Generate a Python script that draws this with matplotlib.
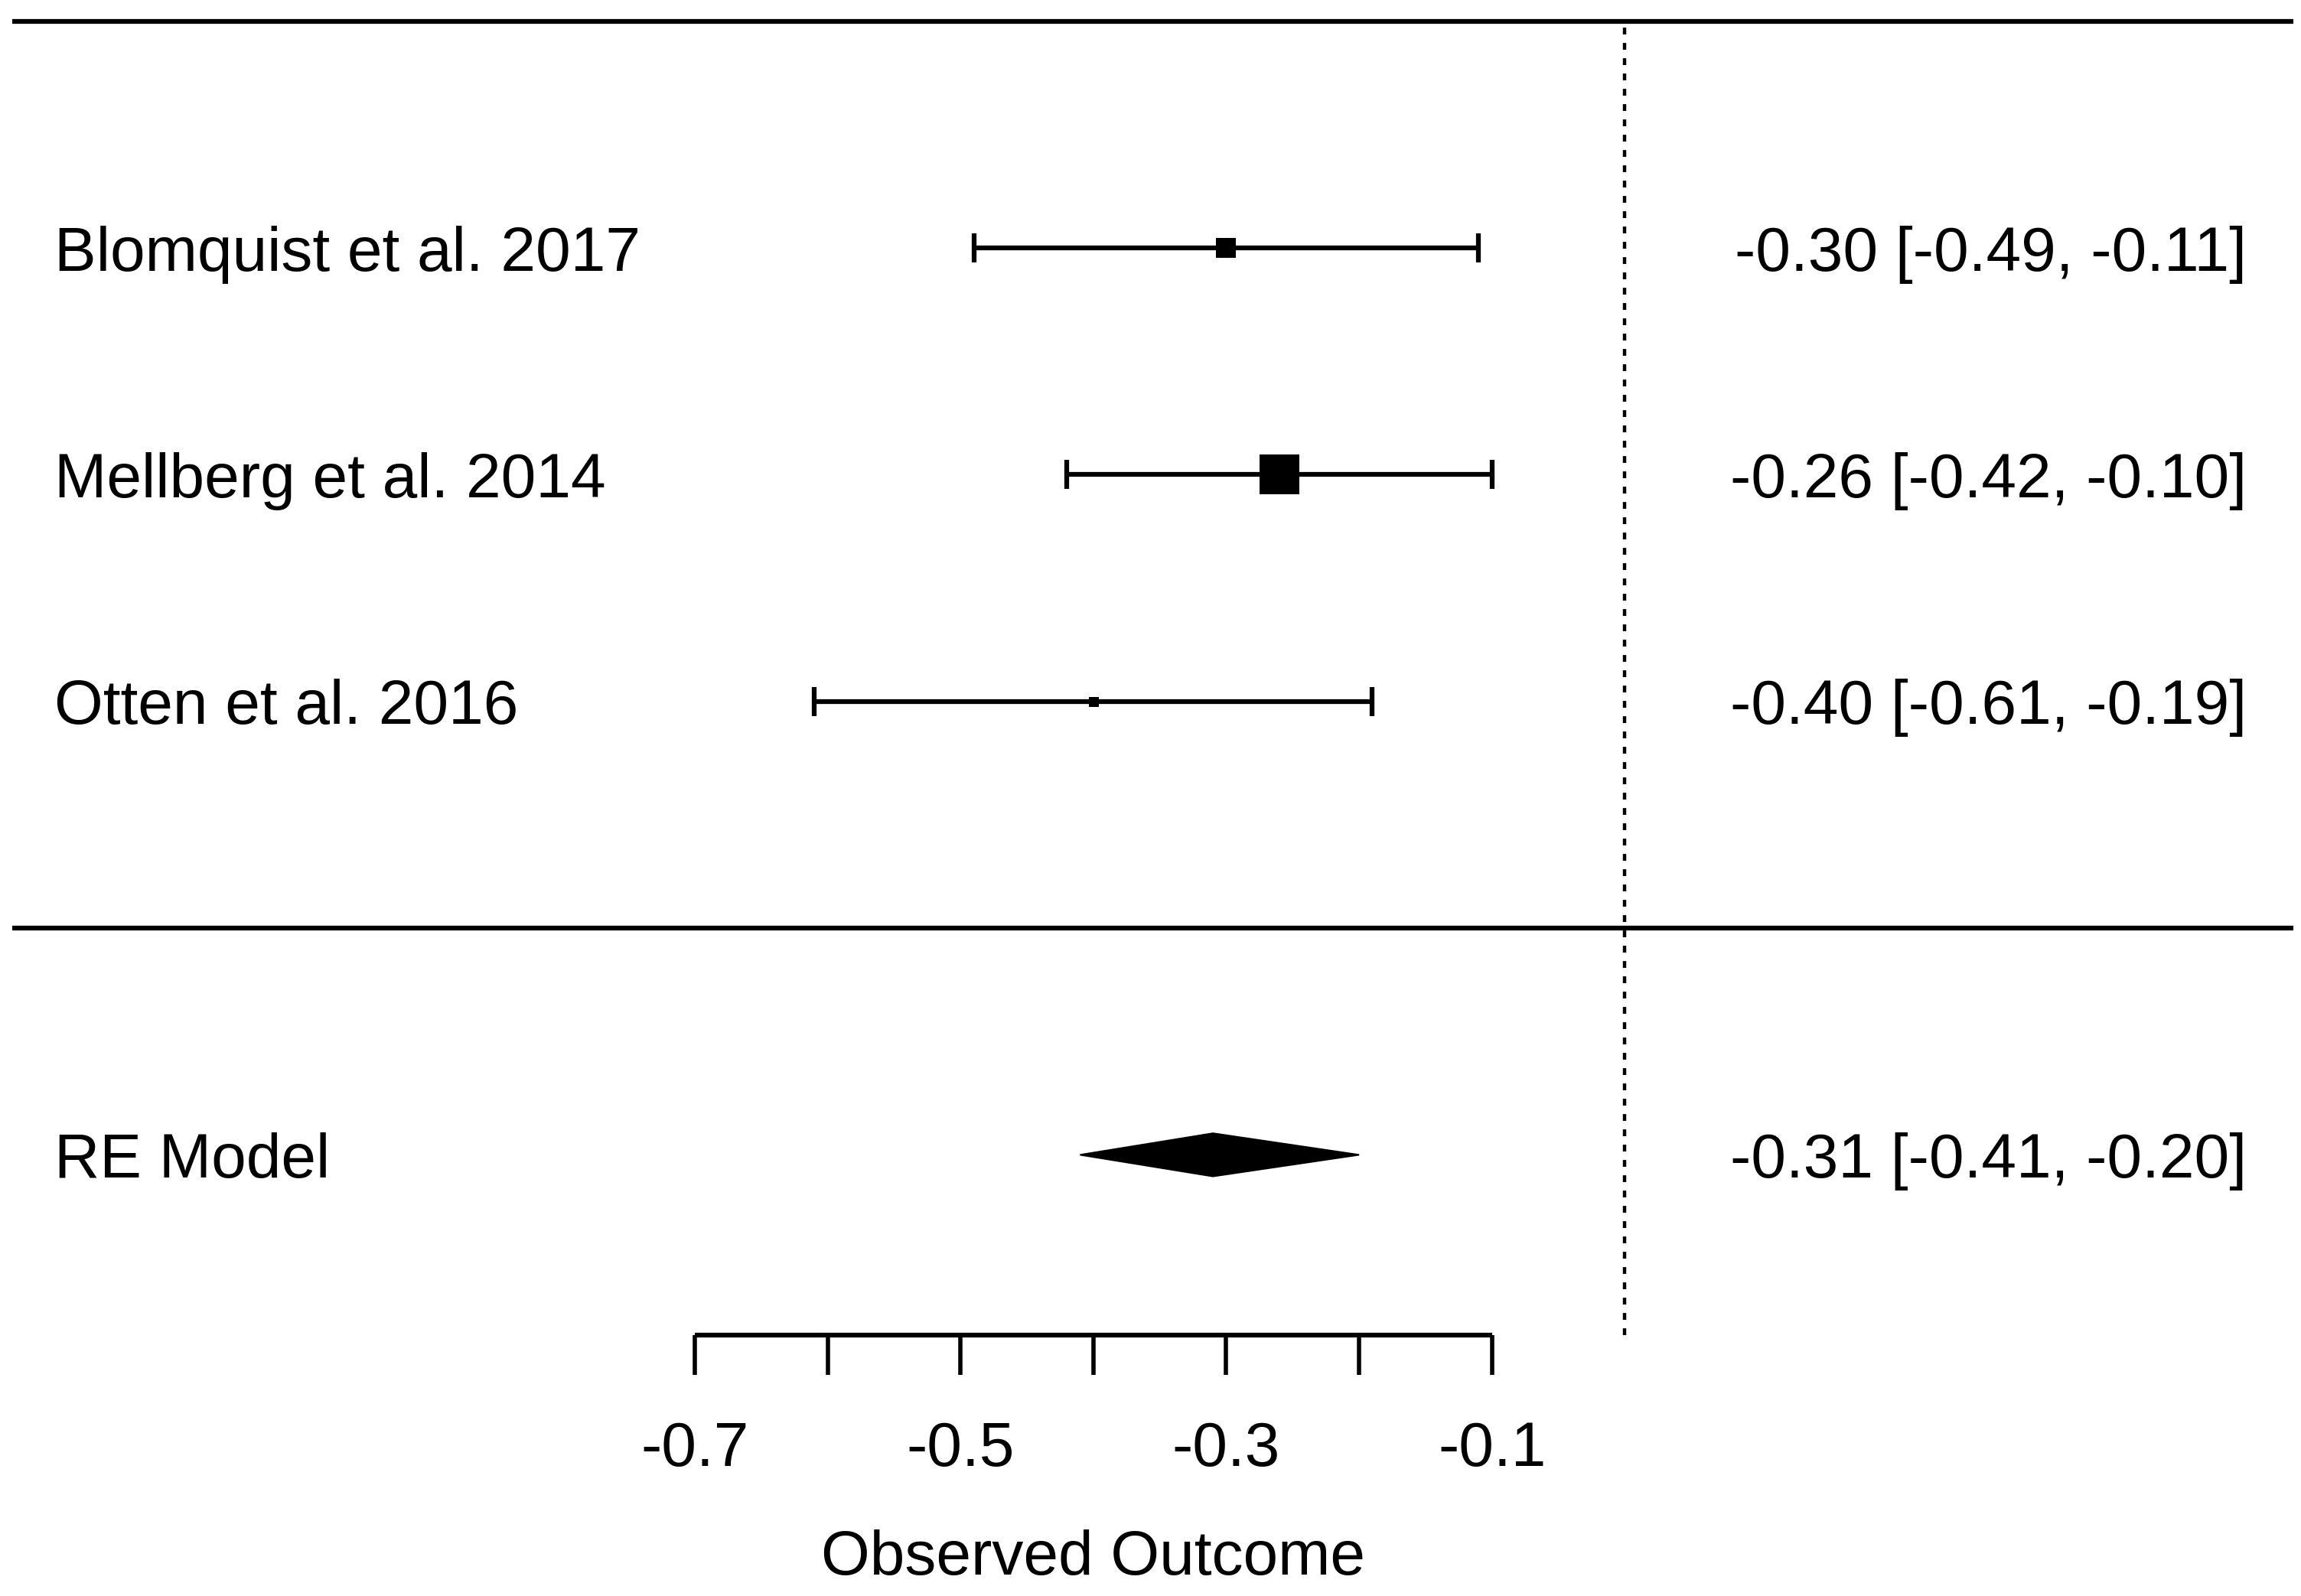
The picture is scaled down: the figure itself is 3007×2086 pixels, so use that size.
import matplotlib.pyplot as plt
import numpy as np

# study data (estimate and 95% CI)
studies = ['Blomquist et al. 2017', 'Mellberg et al. 2014', 'Otten et al. 2016']
estimates = [-0.30, -0.26, -0.40]
ci_lower = [-0.49, -0.42, -0.61]
ci_upper = [-0.11, -0.10, -0.19]

# random-effects summary
model_label = 'RE Model'
model_est = -0.31
model_lower = -0.41
model_upper = -0.20

tick_values = [-0.7, -0.6, -0.5, -0.4, -0.3, -0.2, -0.1]
tick_labels = ['-0.7', '', '-0.5', '', '-0.3', '', '-0.1']
xlabel = 'Observed Outcome'

font = ['Liberation Sans', 'DejaVu Sans']
fs = 59

fig = plt.figure(figsize=(30.07, 20.86), dpi=100)
ax = fig.add_axes([0, 0, 1, 1])
ax.set_xlim(-1.223, 0.509)
ax.set_ylim(-2.946, 4.094)
ax.axis('off')

k = len(studies)
rows = np.arange(k, 0, -1)
est = np.array(estimates)
lo = np.array(ci_lower)
hi = np.array(ci_upper)

# horizontal frame lines
ax.hlines([k + 1, 0], -1.214, 0.503, color='black', lw=4.5)

# reference line at zero
ax.vlines(0, -1.795, k + 1, color='black', lw=3.2, linestyles=(0, (2, 2.5)))

# CIs
ax.errorbar(est, rows, xerr=[est - lo, hi - est], fmt='none', ecolor='black',
            elinewidth=4.5, capsize=13.5, capthick=4.5)

# squares sized by weight (inverse CI width)
w = 1 / (hi - lo)
psize = (w - w.min()) / (w.max() - w.min())
side_px = 13 + psize * (52 - 13)
for x, y, s in zip(est, rows, side_px):
    ax.plot(x, y, marker='s', color='black', markersize=s * 0.72, mew=0)

# summary diamond
h = 0.095
ax.fill([model_lower, model_est, model_upper, model_est],
        [-1, -1 + h, -1, -1 - h], color='black', lw=1.5, ec='black')

# labels
for name, y, e, l, u in zip(studies, rows, estimates, ci_lower, ci_upper):
    ax.text(-1.182, y, name, ha='left', va='center_baseline', fontsize=fs, family=font)
    ax.text(0.468, y, '{:.2f} [{:.2f}, {:.2f}]'.format(e, l, u),
            ha='right', va='center_baseline', fontsize=fs, family=font)
ax.text(-1.182, -1, model_label, ha='left', va='center_baseline', fontsize=fs, family=font)
ax.text(0.468, -1, '{:.2f} [{:.2f}, {:.2f}]'.format(model_est, model_lower, model_upper),
        ha='right', va='center_baseline', fontsize=fs, family=font)

# x axis
ax_y = -1.795
ax.hlines(ax_y, tick_values[0], tick_values[-1], color='black', lw=4.5)
for t, lab in zip(tick_values, tick_labels):
    ax.vlines(t, ax_y - 0.176, ax_y, color='black', lw=4)
    if lab:
        ax.text(t, -2.302, lab, ha='center', va='center', fontsize=fs, family=font)
ax.text((tick_values[0] + tick_values[-1]) / 2, -2.781, xlabel,
        ha='center', va='center', fontsize=fs, family=font)

fig.savefig('out.png', dpi=100, facecolor='white')
